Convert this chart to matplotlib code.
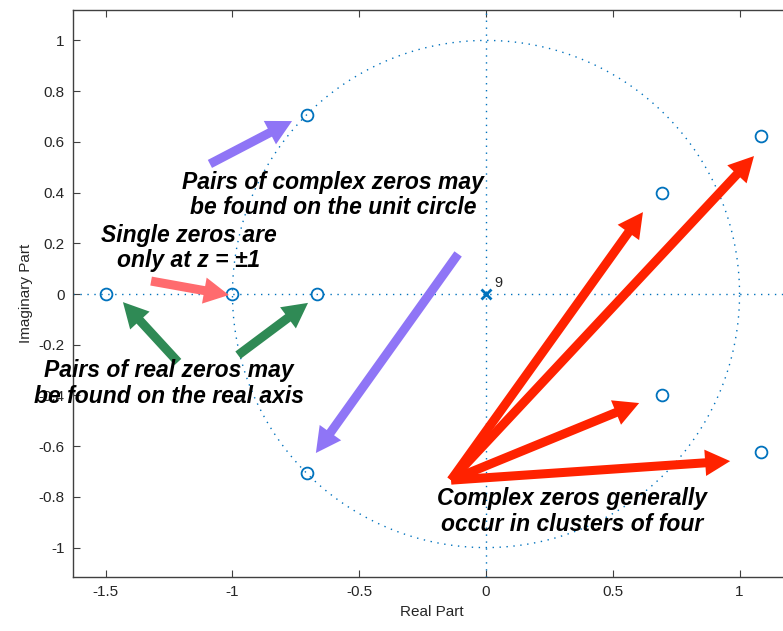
import numpy as np
import matplotlib.pyplot as plt
from matplotlib.patches import FancyArrowPatch

plt.rcParams['axes.unicode_minus'] = False
plt.rcParams['font.family'] = ['Liberation Sans', 'DejaVu Sans']

# zeros and poles (z-plane)
zeros_re = [-1.5, -1.0, -0.667, -0.707, -0.707, 0.693, 0.693, 1.083, 1.083]
zeros_im = [0.0, 0.0, 0.0, 0.707, -0.707, 0.40, -0.40, 0.625, -0.625]
poles_re = [0.0]
poles_im = [0.0]
pole_count = "9"

x_ticks = [-1.5, -1, -0.5, 0, 0.5, 1]
y_ticks = [-1, -0.8, -0.6, -0.4, -0.2, 0, 0.2, 0.4, 0.6, 0.8, 1]

# annotations: text blocks and arrows (data coords)
notes = [
    ("Pairs of complex zeros may\nbe found on the unit circle", -0.602, 0.392),
    ("Single zeros are\nonly at z = \u00b11", -1.172, 0.180),
    ("Pairs of real zeros may\nbe found on the real axis", -1.250, -0.353),
    ("Complex zeros generally\noccur in clusters of four", 0.341, -0.858),
]
arrow_tails = [(-1.089, 0.513), (-0.110, 0.158), (-1.321, 0.051),
               (-1.215, -0.268), (-0.978, -0.241),
               (-0.138, -0.734), (-0.138, -0.734), (-0.138, -0.734), (-0.138, -0.734)]
arrow_tips = [(-0.765, 0.682), (-0.671, -0.627), (-1.014, -0.004),
              (-1.432, -0.032), (-0.702, -0.035),
              (0.619, 0.323), (1.057, 0.544), (0.604, -0.430), (0.963, -0.659)]
arrow_colors = ['#8f75f6', '#8f75f6', '#ff6b6e',
                '#2f8a55', '#2f8a55',
                '#ff2200', '#ff2200', '#ff2200', '#ff2200']

blue = '#0072BD'
dots = (0, (1, 4))

fig = plt.figure(figsize=(7.83, 6.31), dpi=100)
ax = fig.add_axes([73 / 783, 54 / 631, 717 / 783, 567 / 631])
ax.set_xlim(-1.629, 1.199)
ax.set_ylim(-1.116, 1.120)

# unit circle and axes lines
theta = np.linspace(0, 2 * np.pi, 500)
ax.plot(np.cos(theta), np.sin(theta), ls=dots, color=blue, lw=1.0)
ax.axhline(0, ls=dots, color=blue, lw=1.0)
ax.axvline(0, ls=dots, color=blue, lw=1.0)

ax.plot(zeros_re, zeros_im, 'o', ms=8.5, mfc='none', mec=blue, mew=1.3)
ax.plot(poles_re, poles_im, 'x', ms=7, mec=blue, mew=2)
ax.annotate(pole_count, (poles_re[0], poles_im[0]), xytext=(6, 5),
            textcoords='offset points', fontsize=10.5, color='#262626')

for (x0, y0), (x1, y1), c in zip(arrow_tails, arrow_tips, arrow_colors):
    arr = FancyArrowPatch((x0, y0), (x1, y1),
                          arrowstyle='Simple, tail_width=6.5, head_width=19, head_length=18',
                          mutation_scale=1, color=c, lw=0, shrinkA=0, shrinkB=0, zorder=4)
    ax.add_patch(arr)

for txt, x, y in notes:
    ax.text(x, y, txt, ha='center', va='center', fontsize=16.5, fontweight='bold',
            fontstyle='italic', linespacing=1.12, color='black', zorder=5)

ax.set_xticks(x_ticks)
ax.set_yticks(y_ticks)
ax.set_xticklabels(['%g' % v for v in x_ticks])
ax.set_yticklabels(['%g' % v for v in y_ticks])
ax.tick_params(direction='in', length=5, width=0.8, color='#404040',
               labelcolor='#262626', labelsize=11, top=True, right=True, pad=6)
for s in ax.spines.values():
    s.set_color('#404040')
    s.set_linewidth(1.0)

ax.set_xlabel('Real Part', fontsize=11, color='#262626', labelpad=4)
ax.set_ylabel('Imaginary Part', fontsize=11, color='#262626', labelpad=4)

fig.savefig('out.png', dpi=100)
